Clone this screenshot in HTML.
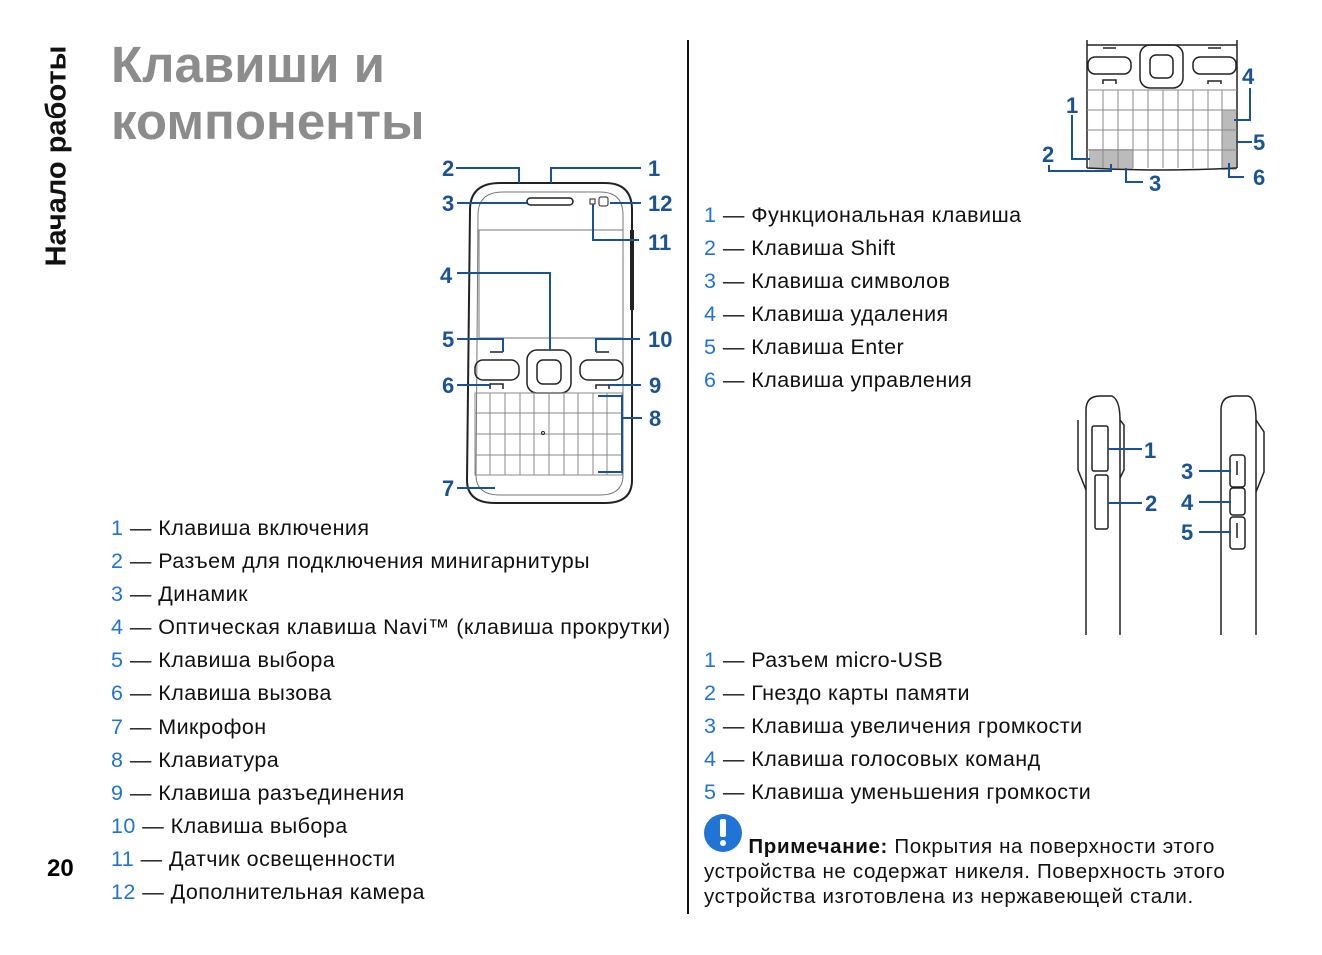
<!DOCTYPE html>
<html><head><meta charset="utf-8"><style>
body{margin:0;background:#fff;width:1322px;height:955px;position:relative;overflow:hidden;font-family:"Liberation Sans","DejaVu Sans",sans-serif;}
.a{position:absolute;white-space:nowrap;}
.t{font-size:51px;font-weight:bold;color:#8c8c8c;left:111px;line-height:57px;}
.li{font-size:21.5px;color:#111;line-height:33.1px;letter-spacing:0.45px;}
.li b{font-weight:normal;color:#1f74d6;}
.note{font-size:20.5px;color:#111;line-height:25px;letter-spacing:0.65px;}
</style></head><body>
<div class="a" style="left:57px;top:156px;transform:translate(-50%,-50%) rotate(-90deg);font-size:29px;font-weight:bold;color:#111;">Начало работы</div>
<div class="a t" style="top:36px;">Клавиши и</div>
<div class="a t" style="top:93px;">компоненты</div>
<div class="a" style="left:47px;top:855px;font-size:24px;font-weight:bold;">20</div>
<div class="a" style="left:687px;top:40px;width:2px;height:874px;background:#111;"></div>

<div class="a li" style="left:111px;top:512px;">
<div><b>1</b> — Клавиша включения</div>
<div><b>2</b> — Разъем для подключения минигарнитуры</div>
<div><b>3</b> — Динамик</div>
<div><b>4</b> — Оптическая клавиша Navi™ (клавиша прокрутки)</div>
<div><b>5</b> — Клавиша выбора</div>
<div><b>6</b> — Клавиша вызова</div>
<div><b>7</b> — Микрофон</div>
<div><b>8</b> — Клавиатура</div>
<div><b>9</b> — Клавиша разъединения</div>
<div><b>10</b> — Клавиша выбора</div>
<div><b>11</b> — Датчик освещенности</div>
<div><b>12</b> — Дополнительная камера</div>
</div>
<div class="a li" style="left:704px;top:199px;">
<div><b>1</b> — Функциональная клавиша</div>
<div><b>2</b> — Клавиша Shift</div>
<div><b>3</b> — Клавиша символов</div>
<div><b>4</b> — Клавиша удаления</div>
<div><b>5</b> — Клавиша Enter</div>
<div><b>6</b> — Клавиша управления</div>
</div>
<div class="a li" style="left:704px;top:644px;">
<div><b>1</b> — Разъем micro-USB</div>
<div><b>2</b> — Гнездо карты памяти</div>
<div><b>3</b> — Клавиша увеличения громкости</div>
<div><b>4</b> — Клавиша голосовых команд</div>
<div><b>5</b> — Клавиша уменьшения громкости</div>
</div>
<div class="a note" style="left:704px;top:834px;">
<div>&nbsp;&nbsp;&nbsp;&nbsp;&nbsp;&nbsp;&nbsp;<b>Примечание:</b> Покрытия на поверхности этого</div>
<div>устройства не содержат никеля. Поверхность этого</div>
<div>устройства изготовлена из нержавеющей стали.</div>
</div>

<svg class="a" style="left:0;top:0" width="1322" height="955">
<circle cx="723" cy="833" r="19" fill="#1f74d6"/>
<rect x="720" y="819" width="6" height="18" rx="2" fill="#fff"/>
<circle cx="723" cy="843" r="3" fill="#fff"/>
<g fill="none" stroke="#222" stroke-width="1.5">
<path d="M470 210 Q470 183 500 183 L605 183 Q632 183 632 210 L632 480 Q632 503 605 503 L495 503 Q467 503 467 480 Z" stroke-width="2"/>
<path d="M478 215 Q478 192 503 192 L600 192 Q623 192 623 215 L623 475 Q623 495 600 495 L500 495 Q476 495 476 475 Z" stroke="#777" stroke-width="1"/>
<rect x="527" y="198" width="46" height="7" rx="3.5"/>
<rect x="590" y="199" width="5" height="5" stroke-width="1"/>
<rect x="599" y="197" width="9" height="9" rx="2" stroke-width="1"/>
<rect x="479" y="230" width="144" height="108" stroke="#777" stroke-width="1"/>
<rect x="527" y="350" width="44" height="43" rx="10"/>
<rect x="537" y="360" width="24" height="24" rx="6"/>
<rect x="475" y="360" width="44" height="20" rx="8"/>
<rect x="580" y="360" width="43" height="20" rx="8"/>
<path d="M490 352h13M596 352h13M490 389v-5h13v5M596 389v-4h13v4"/>
<path d="M632 230v80" stroke-width="4"/>
<g stroke="#888" stroke-width="1">
<path d="M475 393h147v82h-147z"/>
<path d="M475 413h147M475 434h147M475 455h147"/>
<path d="M490 393v82M505 393v82M520 393v82M534 393v82M549 393v82M564 393v82M578 393v82M593 393v82M607 393v82"/>
</g>
<circle cx="543" cy="433" r="1.5" stroke-width="1"/>
</g>
<g fill="none" stroke="#1a5296" stroke-width="2">
<path d="M456 168h63v15M551 183v-15h90M457 203h70M610 203h31M593 204v36h46M457 273h93v77M457 339h46v13M596 352v-13h44M457 385h33M609 385h32M598 396h24v76h-24M622 418h20M457 488h38"/>
</g>
<g font-family="Liberation Sans" font-weight="bold" font-size="22" fill="#1a5296">
<text x="442" y="176">2</text><text x="648" y="176">1</text>
<text x="442" y="211">3</text><text x="648" y="211">12</text>
<text x="648" y="250">11</text><text x="440" y="283">4</text>
<text x="442" y="347">5</text><text x="648" y="347">10</text>
<text x="442" y="393">6</text><text x="649" y="393">9</text>
<text x="649" y="426">8</text><text x="442" y="496">7</text>
</g>
<rect x="1222" y="110" width="14" height="50" fill="#bbb"/>
<rect x="1089" y="149" width="44" height="20" fill="#bbb"/>
<rect x="1222" y="160" width="14" height="10" fill="#bbb"/>
<g fill="none" stroke="#222" stroke-width="1.5">
<path d="M1087 40v128M1237 40v128M1087 45h150"/>
<rect x="1140" y="45" width="43" height="43" rx="10"/>
<rect x="1150" y="55" width="23" height="23" rx="6"/>
<rect x="1088" y="57" width="43" height="17" rx="7"/>
<rect x="1193" y="57" width="43" height="17" rx="7"/>
<path d="M1103 48h13M1208 48h13M1103 84v-4h13v4M1208 84v-3h13v3"/>
<path d="M1087 168 Q1160 172 1237 168"/>
<g stroke="#888" stroke-width="1">
<path d="M1087 90h150M1087 110h150M1087 130h150M1087 150h150"/>
<path d="M1103 90v78M1118 90v78M1133 90v78M1148 90v78M1163 90v78M1178 90v78M1193 90v78M1208 90v78M1222 90v78"/>
</g>
</g>
<g fill="none" stroke="#1a5296" stroke-width="2">
<path d="M1072 115v44h18M1049 165v6h62v-7M1126 168v14h17M1250 88v32h-16M1236 142h16M1229 163v14h15"/>
</g>
<g font-family="Liberation Sans" font-weight="bold" font-size="22" fill="#1a5296">
<text x="1066" y="113">1</text><text x="1042" y="162">2</text><text x="1149" y="191">3</text>
<text x="1242" y="84">4</text><text x="1253" y="150">5</text><text x="1253" y="185">6</text>
</g>
<g fill="none" stroke="#222" stroke-width="1.5">
<path d="M1086 635V410Q1086 396 1100 396L1112 396Q1120 400 1120 420V635"/>
<path d="M1078 420v50l8 20M1120 420l4 5v45l-4 8"/>
<rect x="1092" y="426" width="16" height="45" rx="2"/>
<rect x="1095" y="475" width="13" height="54" rx="2"/>
<path d="M1221 635V410Q1221 396 1235 396L1248 396Q1256 398 1256 420V635"/>
<path d="M1256 420l8 12v40l-8 20"/>
<rect x="1230" y="455" width="15" height="32" rx="3"/>
<rect x="1230" y="488" width="15" height="27" rx="3"/>
<rect x="1230" y="517" width="15" height="32" rx="3"/>
<path d="M1237 461v14M1237 523v15"/>
</g>
<g fill="none" stroke="#1a5296" stroke-width="2">
<path d="M1108 449h34M1108 503h34M1199 471h32M1199 502h32M1199 532h32"/>
</g>
<g font-family="Liberation Sans" font-weight="bold" font-size="22" fill="#1a5296">
<text x="1144" y="458">1</text><text x="1145" y="511">2</text>
<text x="1181" y="479">3</text><text x="1181" y="510">4</text><text x="1181" y="540">5</text>
</g>
</svg>
</body></html>
